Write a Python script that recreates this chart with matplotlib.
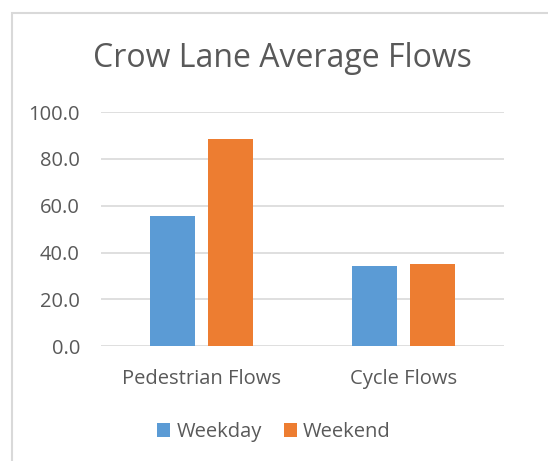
import matplotlib
matplotlib.use("Agg")
import matplotlib.pyplot as plt
from matplotlib.patches import Rectangle
import numpy as np

# -------------------------
# Data
# -------------------------
categories = ["Pedestrian Flows", "Cycle Flows"]
weekday = [55.7, 34.1]
weekend = [88.5, 35.3]
series_names = ["Weekday", "Weekend"]
y_ticks = [0, 20, 40, 60, 80, 100]

blue = "#5B9BD5"
orange = "#ED7D31"
text_grey = "#595959"
grid_grey = "#D9D9D9"

plt.rcParams["font.family"] = ["Open Sans", "DejaVu Sans"]

fig = plt.figure(figsize=(5.48, 4.61), dpi=100)
ax = fig.add_axes([0.1838, 0.2488, 0.7365, 0.5082])

x = np.arange(len(categories))
w = 0.223
off = 0.142
b1 = ax.bar(x - off, weekday, w, color=blue, label=series_names[0], zorder=3)
b2 = ax.bar(x + off, weekend, w, color=orange, label=series_names[1], zorder=3)

ax.set_xlim(-0.5, 1.5)
ax.set_ylim(0, 100)
ax.set_yticks(y_ticks)
ax.set_yticklabels([f"{v:.1f}" for v in y_ticks])
ax.set_xticks(x)
ax.set_xticklabels(categories)
ax.tick_params(length=0, labelsize=14.5, colors=text_grey)
ax.tick_params(axis="y", pad=15)
ax.tick_params(axis="x", pad=16)
ax.grid(axis="y", color=grid_grey, linewidth=1.2, zorder=0)
for s in ax.spines.values():
    s.set_visible(False)

fig.text(0.5146, 0.873, "Crow Lane Average Flows", ha="center", va="center",
         fontsize=23, color=text_grey)

fig.legend(handles=[b1, b2], labels=series_names, loc="center",
           bbox_to_anchor=(0.5, 0.063), ncol=2, frameon=False,
           fontsize=14.5, labelcolor=text_grey, handlelength=0.65,
           handleheight=0.65, handletextpad=0.3, columnspacing=1.1)

# chart border, cut off at right and bottom like the screenshot
fig.add_artist(Rectangle((12 / 548, -0.1), 1.2, (1 - 13 / 461) + 0.1,
                         transform=fig.transFigure, fill=False,
                         edgecolor=grid_grey, linewidth=1.5))

fig.savefig("out.png", dpi=100)
